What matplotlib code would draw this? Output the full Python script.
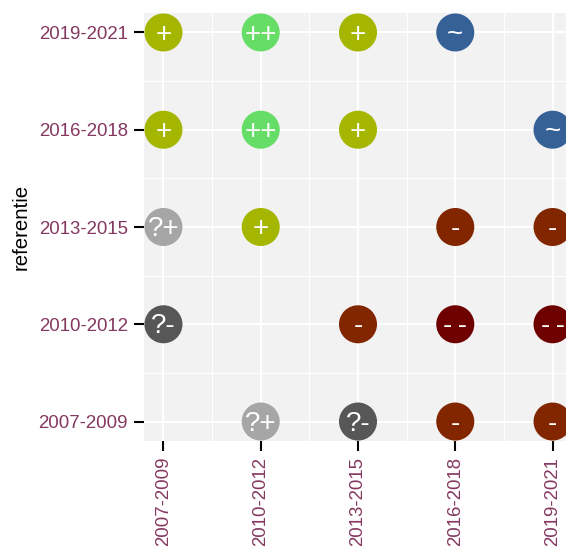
import matplotlib
matplotlib.use("Agg")
import matplotlib.pyplot as plt
from matplotlib.ticker import FixedLocator

plt.rcParams['font.family'] = ['Liberation Sans', 'DejaVu Sans']

periodes = ['2007-2009', '2010-2012', '2013-2015', '2016-2018', '2019-2021']

# (periode, referentie, klasse)
periode = ['2007-2009', '2010-2012', '2013-2015', '2016-2018',
           '2007-2009', '2010-2012', '2013-2015', '2019-2021',
           '2007-2009', '2010-2012', '2016-2018', '2019-2021',
           '2007-2009', '2013-2015', '2016-2018', '2019-2021',
           '2010-2012', '2013-2015', '2016-2018', '2019-2021']
referentie = ['2019-2021'] * 4 + ['2016-2018'] * 4 + ['2013-2015'] * 4 + \
             ['2010-2012'] * 4 + ['2007-2009'] * 4
klasse = ['+', '++', '+', '~',
          '+', '++', '+', '~',
          '?+', '+', '-', '-',
          '?-', '-', '--', '--',
          '?+', '?-', '-', '-']

kleuren = {'++': '#66DD66', '+': '#A4B600', '~': '#356196',
           '-': '#822600', '--': '#6E0000', '?+': '#A6A6A6', '?-': '#575757'}

W, H = 566, 547
fig = plt.figure(figsize=(W / 100, H / 100), dpi=100)
ax = fig.add_axes([144 / W, (H - 441) / H, 428 / W, 428 / H])
ax.set_facecolor('#F2F2F2')
for s in ax.spines.values():
    s.set_visible(False)

xs = [periodes.index(p) for p in periode]
ys = [periodes.index(r) for r in referentie]
ax.scatter(xs, ys, s=750, c=[kleuren[k] for k in klasse], zorder=3,
           clip_on=False, linewidths=0)
for x, y, k in zip(xs, ys, klasse):
    label = k.replace('--', '-\u2009-')
    ax.annotate(label, (x, y), xytext=(0, -1.5), textcoords='offset points',
                color='white', fontsize=20, ha='center', va='center',
                zorder=4, annotation_clip=False)

ax.set_xlim(-0.2, 4.2)
ax.set_ylim(-0.2, 4.2)
ax.set_xticks(range(5))
ax.set_xticklabels(periodes, rotation=90)
ax.set_yticks(range(5))
ax.set_yticklabels(periodes)
ax.xaxis.set_minor_locator(FixedLocator([0.5, 1.5, 2.5, 3.5]))
ax.yaxis.set_minor_locator(FixedLocator([0.5, 1.5, 2.5, 3.5]))
ax.grid(which='major', color='white', linewidth=1.5, zorder=1)
ax.grid(which='minor', color='white', linewidth=0.75, zorder=1)
ax.set_axisbelow(True)
ax.tick_params(which='major', length=7.5, width=1.5, color='black',
               labelsize=13.4, labelcolor='#843860', pad=4)
ax.tick_params(which='minor', length=0)
ax.set_ylabel('referentie', fontsize=14.7, labelpad=6)

fig.savefig('out.png', dpi=100)
